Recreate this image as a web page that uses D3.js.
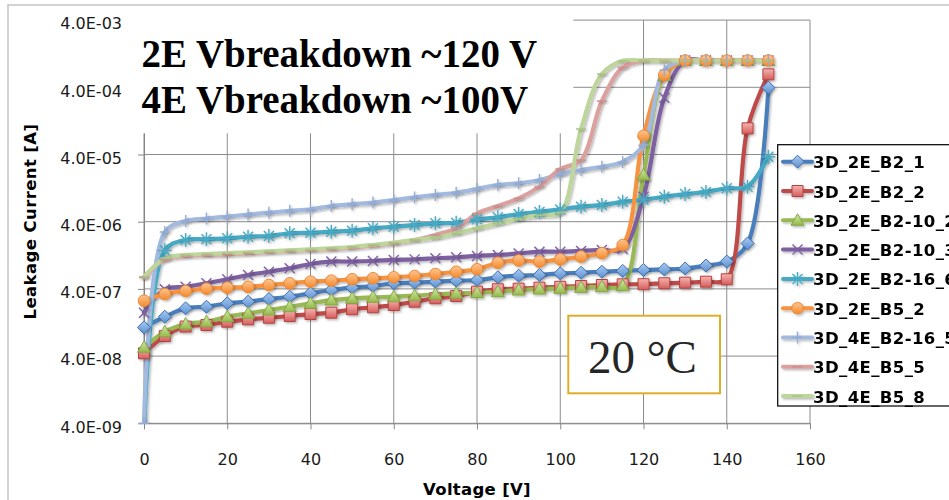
<!DOCTYPE html>
<html>
<head>
<meta charset="utf-8">
<script src="https://cdn.jsdelivr.net/npm/d3@7"></script>
<style>
  body { margin: 0; background: #fff; }
  svg { display: block; }
</style>
</head>
<body>
<div id="chart"></div>
<script>
// data (current in A, voltage in V)
const voltage = [0, 5, 10, 15, 20, 25, 30, 35, 40, 45, 50, 55, 60, 65, 70, 75,
                 80, 85, 90, 95, 100, 105, 110, 115, 120, 125, 130, 135, 140, 145, 150];

const seriesNames = ["3D_2E_B2_1", "3D_2E_B2_2", "3D_2E_B2-10_2", "3D_2E_B2-10_3", "3D_2E_B2-16_6",
                     "3D_2E_B5_2", "3D_4E_B2-16_5", "3D_4E_B5_5", "3D_4E_B5_8"];

const s2E_B2_1 = [1.07e-7, 1.54e-7, 2.06e-7, 2.17e-7, 2.44e-7, 2.58e-7, 2.83e-7, 3.06e-7, 3.44e-7, 3.85e-7,
                  4.17e-7, 4.42e-7, 4.85e-7, 4.95e-7, 5.12e-7, 5.3e-7, 5.42e-7, 5.95e-7, 6.3e-7, 6.44e-7,
                  6.8e-7, 6.96e-7, 7.2e-7, 7.4e-7, 7.64e-7, 7.8e-7, 8.05e-7, 8.9e-7, 1.02e-6, 1.9e-6, 3.94e-4];
const s2E_B2_2 = [4.4e-8, 7.96e-8, 1.1e-7, 1.16e-7, 1.3e-7, 1.41e-7, 1.49e-7, 1.58e-7, 1.69e-7, 1.77e-7,
                  1.99e-7, 2.13e-7, 2.3e-7, 2.58e-7, 2.9e-7, 3.13e-7, 3.63e-7, 3.95e-7, 4.03e-7, 4.17e-7,
                  4.3e-7, 4.42e-7, 4.57e-7, 4.68e-7, 4.7e-7, 4.85e-7, 4.95e-7, 5.12e-7, 5.56e-7, 9.8e-5, 6.24e-4];
const s2E_B2_10_2 = [5.4e-8, 9.2e-8, 1.2e-7, 1.3e-7, 1.54e-7, 1.73e-7, 1.94e-7, 2.17e-7, 2.44e-7, 2.73e-7,
                     2.9e-7, 3.0e-7, 3.06e-7, 3.17e-7, 3.33e-7, 3.44e-7, 3.51e-7, 3.63e-7, 3.85e-7, 3.98e-7,
                     4.08e-7, 4.22e-7, 4.3e-7, 4.46e-7, 1.98e-5, 6e-4, 1e-3, 1e-3, 1e-3, 1e-3, 1e-3];
const s2E_B2_10_3 = [1.77e-7, 3.95e-7, 4.3e-7, 4.85e-7, 5.56e-7, 6.44e-7, 7.2e-7, 8.1e-7, 9.4e-7, 1.02e-6,
                     1.02e-6, 1.04e-6, 1.08e-6, 1.1e-6, 1.14e-6, 1.18e-6, 1.24e-6, 1.28e-6, 1.35e-6, 1.43e-6,
                     1.43e-6, 1.47e-6, 1.52e-6, 1.57e-6, 9.4e-6, 2.8e-4, 1e-3, 1e-3, 1e-3, 1e-3, 1e-3];
const s2E_B2_16_6 = [2.5e-9, 1.5e-6, 2.14e-6, 2.19e-6, 2.26e-6, 2.39e-6, 2.45e-6, 2.69e-6, 2.74e-6, 2.84e-6,
                     2.94e-6, 3.19e-6, 3.37e-6, 3.57e-6, 3.78e-6, 3.86e-6, 4.34e-6, 4.65e-6, 5.2e-6, 5.6e-6,
                     6.1e-6, 6.7e-6, 7.1e-6, 7.9e-6, 8.5e-6, 9.4e-6, 1.03e-5, 1.11e-5, 1.26e-5, 1.33e-5, 3.7e-5];
const s2E_B5_2 = [2.67e-7, 3.36e-7, 3.72e-7, 4.03e-7, 4.17e-7, 4.3e-7, 4.57e-7, 4.85e-7, 5.12e-7, 5.3e-7,
                  5.56e-7, 5.75e-7, 5.95e-7, 6.22e-7, 6.66e-7, 7.2e-7, 7.83e-7, 9.8e-7, 1.06e-6, 1.02e-6,
                  1.1e-6, 1.21e-6, 1.36e-6, 1.8e-6, 7.6e-5, 6.1e-4, 1e-3, 1e-3, 1e-3, 1e-3, 1e-3];
const s4E_B2_16_5 = [4e-9, 2.81e-6, 4.1e-6, 4.46e-6, 4.78e-6, 5.1e-6, 5.45e-6, 5.8e-6, 6.1e-6, 6.85e-6,
                     7.3e-6, 7.7e-6, 8.4e-6, 9.2e-6, 1.0e-5, 1.08e-5, 1.23e-5, 1.41e-5, 1.49e-5, 1.67e-5,
                     2.05e-5, 2.35e-5, 2.63e-5, 3.1e-5, 5.5e-5, 7.2e-4, 1e-3, 1e-3, 1e-3, 1e-3, 1e-3];
const s4E_B5_5 = [5.9e-7, 1.09e-6, 1.24e-6, 1.28e-6, 1.31e-6, 1.36e-6, 1.42e-6, 1.47e-6, 1.52e-6, 1.57e-6,
                  1.65e-6, 1.77e-6, 1.91e-6, 2.14e-6, 2.54e-6, 3.19e-6, 5.3e-6, 6.85e-6, 8.9e-6, 1.33e-5,
                  2.43e-5, 3.3e-5, 2.5e-4, 7.9e-4, 1e-3, 1e-3, 1e-3, 1e-3, 1e-3, 1e-3, 1e-3];
const s4E_B5_8 = [6.08e-7, 1.14e-6, 1.28e-6, 1.32e-6, 1.36e-6, 1.4e-6, 1.45e-6, 1.5e-6, 1.55e-6, 1.61e-6,
                  1.68e-6, 1.8e-6, 1.95e-6, 2.14e-6, 2.33e-6, 2.69e-6, 3.19e-6, 3.78e-6, 4.42e-6, 5.0e-6,
                  5.5e-6, 9.6e-5, 6.3e-4, 9.9e-4, 1e-3, 1e-3, 1e-3, 1e-3, 1e-3, 1e-3, 1e-3];

const seriesValues = [s2E_B2_1, s2E_B2_2, s2E_B2_10_2, s2E_B2_10_3, s2E_B2_16_6,
                      s2E_B5_2, s4E_B2_16_5, s4E_B5_5, s4E_B5_8];

const xTickValues = [0, 20, 40, 60, 80, 100, 120, 140, 160];
const yTickValues = [4e-9, 4e-8, 4e-7, 4e-6, 4e-5, 4e-4, 4e-3];
const yTickLabels = ["4.0E-09", "4.0E-08", "4.0E-07", "4.0E-06", "4.0E-05", "4.0E-04", "4.0E-03"];

// styles
const lineColors   = ["#4a7ebb", "#be4b48", "#98b954", "#7d60a0", "#46aac5", "#f69240", "#a3badf", "#dba19f", "#bed59b"];
const markerStroke = ["#3e6eab", "#b4423f", "#86a745", "#7d60a0", "#46aac5", "#ee8631", "#93acd5", "#cc8f8d", "#a9c583"];
const markerTypes  = ["diamond", "square", "triangle", "x", "star", "circle", "plus", "dash", "dash"];
const gradStops    = [["#a9cbf3", "#5a8fd0"], ["#f6b3b1", "#d45e5b"], ["#d5eaa5", "#92b94b"], null, null,
                      ["#fcc794", "#f5892b"], null, null, null];

const width = 949, height = 500;
const plot = {left: 144, right: 810, top: 20.1, bottom: 423.3};
const tickFont = "DejaVu Sans";

const svg = d3.select("#chart").append("svg")
  .attr("width", width).attr("height", height)
  .style("background", "#fff");

const x = d3.scaleLinear().domain([0, 160]).range([plot.left, plot.right]);
const y = d3.scaleLog().domain([4e-9, 4e-3]).range([plot.bottom, plot.top]);

const defs = svg.append("defs");
defs.append("clipPath").attr("id", "plotClip")
  .append("rect")
  .attr("x", plot.left - 8).attr("y", plot.top - 8)
  .attr("width", plot.right - plot.left + 16).attr("height", plot.bottom - plot.top + 8);

const shadow = defs.append("filter").attr("id", "shadow")
  .attr("x", "-20%").attr("y", "-20%").attr("width", "140%").attr("height", "140%");
shadow.append("feDropShadow").attr("dx", 1.5).attr("dy", 1.5)
  .attr("stdDeviation", 1.2).attr("flood-color", "#000").attr("flood-opacity", 0.28);

gradStops.forEach((g, i) => {
  if (!g) return;
  const lg = defs.append("linearGradient").attr("id", "grad" + i)
    .attr("x1", 0).attr("y1", 0).attr("x2", 0).attr("y2", 1);
  lg.append("stop").attr("offset", "0%").attr("stop-color", g[0]);
  lg.append("stop").attr("offset", "100%").attr("stop-color", g[1]);
});

// outer chart border
svg.append("rect")
  .attr("x", 8).attr("y", 5).attr("width", 960).attr("height", 520)
  .attr("fill", "none").attr("stroke", "#c4c4c4").attr("stroke-width", 1.5);

// gridlines
const grid = svg.append("g").attr("stroke", "#8c8c8c").attr("stroke-width", 1);
xTickValues.forEach(v => {
  grid.append("line")
    .attr("x1", x(v)).attr("x2", x(v))
    .attr("y1", plot.top).attr("y2", plot.bottom);
});
yTickValues.forEach(v => {
  grid.append("line")
    .attr("x1", plot.left).attr("x2", plot.right)
    .attr("y1", y(v)).attr("y2", y(v));
});

// axes
const yAxis = svg.append("g")
  .attr("transform", `translate(${plot.left},0)`)
  .call(d3.axisLeft(y).tickValues(yTickValues)
    .tickFormat((d, i) => yTickLabels[i]).tickSize(6).tickSizeOuter(0).tickPadding(16));
yAxis.selectAll("text")
  .attr("dy", "0.55em")
  .style("font-family", tickFont).style("font-size", "16px").attr("fill", "#1a1a1a");

const xAxis = svg.append("g")
  .attr("transform", `translate(0,${plot.bottom})`)
  .call(d3.axisBottom(x).tickValues(xTickValues).tickSize(6).tickSizeOuter(0).tickPadding(24));
xAxis.selectAll("text")
  .style("font-family", tickFont).style("font-size", "16px").attr("fill", "#1a1a1a");

[yAxis, xAxis].forEach(a => {
  a.select(".domain").attr("stroke", "#868686");
  a.selectAll(".tick line").attr("stroke", "#868686");
});

// series
const line = d3.line()
  .x((d, i) => x(voltage[i]))
  .y(d => y(d))
  .curve(d3.curveCatmullRom.alpha(0.5));

const linesG = svg.append("g").attr("clip-path", "url(#plotClip)").attr("filter", "url(#shadow)");
seriesValues.forEach((vals, k) => {
  linesG.append("path")
    .attr("d", line(vals))
    .attr("fill", "none")
    .attr("stroke", lineColors[k])
    .attr("stroke-width", 4.2)
    .attr("stroke-linejoin", "round")
    .attr("stroke-linecap", "round");
});

function markerPath(type) {
  switch (type) {
    case "diamond":  return "M0,-6.5L6.5,0L0,6.5L-6.5,0Z";
    case "square":   return "M-5.5,-5.5h11v11h-11Z";
    case "triangle": return "M0,-6.5L6.5,5L-6.5,5Z";
    case "circle":   return "M-5.8,0a5.8,5.8 0 1,0 11.6,0a5.8,5.8 0 1,0 -11.6,0Z";
    case "x":        return "M-5,-5L5,5M-5,5L5,-5";
    case "star":     return "M-5,-5L5,5M-5,5L5,-5M0,-7V7M-7,0H7";
    case "plus":     return "M0,-6V6M-5,0H5";
    case "dash":     return "M-5,0H5";
  }
}

function drawMarker(g, k, cx, cy) {
  const type = markerTypes[k];
  const p = g.append("path")
    .attr("transform", `translate(${cx},${cy})`)
    .attr("d", markerPath(type));
  if (gradStops[k]) {
    p.attr("fill", `url(#grad${k})`).attr("stroke", markerStroke[k]).attr("stroke-width", 1);
  } else {
    p.attr("fill", "none").attr("stroke", markerStroke[k])
      .attr("stroke-width", type === "dash" ? 1.5 : 1.4);
  }
}

const markersG = svg.append("g").attr("clip-path", "url(#plotClip)").attr("filter", "url(#shadow)");
seriesValues.forEach((vals, k) => {
  vals.forEach((v, i) => drawMarker(markersG, k, x(voltage[i]), y(v)));
});

// white area behind the big title
svg.append("rect")
  .attr("x", 121.7).attr("y", 6)
  .attr("width", 573.3 - 121.7).attr("height", 133.3 - 6)
  .attr("fill", "#fff");

const titleLines = ["2E Vbreakdown ~120 V", "4E Vbreakdown ~100V"];
titleLines.forEach((t, i) => {
  svg.append("text")
    .attr("transform", `translate(141.5,${66.5 + i * 46.8}) scale(0.95,1)`)
    .style("font-family", "Liberation Serif, Times New Roman, serif")
    .style("font-weight", "bold").style("font-size", "41px")
    .attr("fill", "#000")
    .text(t);
});

// temperature box
svg.append("rect")
  .attr("x", 568.3).attr("y", 315.7).attr("width", 720 - 568.3).attr("height", 393.3 - 315.7)
  .attr("fill", "#fff").attr("stroke", "#dcae2a").attr("stroke-width", 2);
svg.append("text")
  .attr("x", 588).attr("y", 372.7)
  .style("font-family", "Liberation Serif, Times New Roman, serif")
  .style("font-size", "47px")
  .attr("fill", "#262626")
  .text("20 °C");

// legend
const legendX = 777.7, legendY = 144.7, legendH = 406 - 144.7, legendRow = 29.3;
svg.append("rect")
  .attr("x", legendX).attr("y", legendY).attr("width", 200).attr("height", legendH)
  .attr("fill", "#fff").attr("stroke", "#000").attr("stroke-width", 1.2);
const legendG = svg.append("g").attr("filter", "url(#shadow)");
seriesNames.forEach((name, k) => {
  const cy = 161.7 + k * legendRow;
  legendG.append("line")
    .attr("x1", 783).attr("x2", 812).attr("y1", cy).attr("y2", cy)
    .attr("stroke", lineColors[k]).attr("stroke-width", 4).attr("stroke-linecap", "round");
  drawMarker(legendG, k, 797.5, cy);
  svg.append("text")
    .attr("x", 813).attr("y", cy + 6.5)
    .style("font-family", tickFont).style("font-weight", "bold").style("font-size", "16.5px")
    .style("letter-spacing", "0.4px")
    .attr("fill", "#000")
    .text(name);
});

// axis titles
svg.append("text")
  .attr("transform", "translate(36,221.5) rotate(-90)")
  .attr("text-anchor", "middle")
  .style("font-family", tickFont).style("font-weight", "bold").style("font-size", "16.5px")
  .style("letter-spacing", "0.4px")
  .text("Leakage Current [A]");
svg.append("text")
  .attr("x", (plot.left + plot.right) / 2).attr("y", 495)
  .attr("text-anchor", "middle")
  .style("font-family", tickFont).style("font-weight", "bold").style("font-size", "16.5px")
  .style("letter-spacing", "0.3px")
  .text("Voltage [V]");
</script>
</body>
</html>
